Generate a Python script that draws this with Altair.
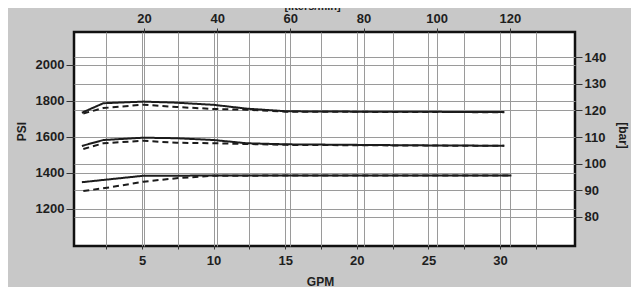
import altair as alt
import pandas as pd

# ---- data ----
top_solid_gpm = [0.8, 2.3, 5.1, 7.4, 10.0, 12.3, 15.1, 20.0, 25.0, 30.3]
top_solid_psi = [1734, 1787, 1796, 1790, 1778, 1757, 1742, 1740, 1739, 1738]
top_dash_gpm = [0.9, 2.3, 5.1, 7.4, 10.0, 12.3, 15.1, 20.0, 25.0, 30.3]
top_dash_psi = [1730, 1760, 1779, 1766, 1755, 1751, 1740, 1739, 1738, 1737]

mid_solid_gpm = [0.8, 2.3, 5.1, 7.4, 10.0, 12.3, 15.1, 20.0, 25.0, 30.3]
mid_solid_psi = [1549, 1582, 1595, 1592, 1582, 1564, 1558, 1555, 1552, 1550]
mid_dash_gpm = [0.9, 2.3, 5.1, 7.4, 10.0, 12.3, 15.1, 20.0, 25.0, 30.3]
mid_dash_psi = [1532, 1564, 1578, 1567, 1564, 1560, 1555, 1553, 1551, 1550]

low_solid_gpm = [0.8, 5.1, 10.0, 15.0, 20.0, 25.0, 30.8]
low_solid_psi = [1347, 1383, 1384, 1384, 1384, 1384, 1384]
low_dash_gpm = [0.9, 2.8, 5.1, 7.4, 10.0, 15.0, 20.0, 25.0, 30.8]
low_dash_psi = [1298, 1319, 1350, 1369, 1383, 1384, 1384, 1384, 1384]

gpm_grid = [2.5, 5, 7.5, 10, 12.5, 15, 17.5, 20, 22.5, 25, 27.5, 30, 32.5]
psi_ticks = [1200, 1400, 1600, 1800, 2000]
lpm_ticks = [20, 40, 60, 80, 100, 120]
bar_ticks = [80, 90, 100, 110, 120, 130, 140]

series = [
    ("top_solid", "solid", top_solid_gpm, top_solid_psi),
    ("top_dash", "dashed", top_dash_gpm, top_dash_psi),
    ("mid_solid", "solid", mid_solid_gpm, mid_solid_psi),
    ("mid_dash", "dashed", mid_dash_gpm, mid_dash_psi),
    ("low_solid", "solid", low_solid_gpm, low_solid_psi),
    ("low_dash", "dashed", low_dash_gpm, low_dash_psi),
]
rows = []
for name, style, xs, ys in series:
    for i, (x, y) in enumerate(zip(xs, ys)):
        rows.append({"curve": name, "style": style, "gpm": x, "psi": y, "order": i})
df = pd.DataFrame(rows)

sec = pd.DataFrame({"lpm": [lpm_ticks[0], lpm_ticks[-1]], "bar": [bar_ticks[0], bar_ticks[-1]]})

FONT = "Liberation Sans"

lines = alt.Chart(df).mark_line(strokeWidth=2, color="#1c1c1c").encode(
    x=alt.X("gpm:Q",
            scale=alt.Scale(domain=[0.25, 35.24], nice=False, zero=False),
            axis=alt.Axis(orient="bottom", values=gpm_grid,
                          labelExpr="datum.value % 5 == 0 ? datum.label : ''",
                          grid=True, tickSize=3, labelPadding=5,
                          title="GPM", titleX=246, titleY=35,
                          titleAlign="center", titleBaseline="middle")),
    y=alt.Y("psi:Q",
            scale=alt.Scale(domain=[991.6, 2183.8], nice=False, zero=False),
            axis=alt.Axis(orient="left", values=psi_ticks, grid=True, format="d",
                          tickSize=8, labelPadding=2,
                          title="PSI", titleX=-53, titleY=99, titleAngle=-90,
                          titleAlign="center", titleBaseline="middle")),
    strokeDash=alt.StrokeDash("style:N",
                              scale=alt.Scale(domain=["solid", "dashed"], range=[[1, 0], [6, 4]]),
                              legend=None),
    detail="curve:N",
    order="order:Q",
)

secondary = alt.Chart(sec).mark_point(opacity=0).encode(
    x=alt.X("lpm:Q",
            scale=alt.Scale(domain=[0.87, 137.8], nice=False, zero=False),
            axis=alt.Axis(orient="top", values=lpm_ticks, grid=True, format="d",
                          tickSize=4, labelPadding=3,
                          title="[liters/min]", titleX=238, titleY=-26,
                          titleFontSize=11,
                          titleAlign="center", titleBaseline="middle")),
    y=alt.Y("bar:Q",
            scale=alt.Scale(domain=[69.1, 149.4], nice=False, zero=False),
            axis=alt.Axis(orient="right", values=bar_ticks, grid=True, format="d",
                          tickSize=7, labelPadding=2,
                          title="[bar]", titleX=47, titleY=103, titleAngle=90,
                          titleAlign="center", titleBaseline="middle")),
)

chart = alt.layer(lines, secondary).resolve_scale(
    x="independent", y="independent"
).properties(
    width=501, height=214,
    autosize=alt.AutoSizeParams(type="none"),
    padding={"left": 66, "top": 24, "right": 56, "bottom": 41},
    background="#c8c8c8",
).configure_view(
    fill="white", stroke="#111111", strokeWidth=2.5
).configure_axis(
    domain=False,
    labelFont=FONT, labelFontWeight="bold", labelFontSize=13, labelColor="#1e1e1e",
    titleFont=FONT, titleFontWeight="bold", titleFontSize=12, titleColor="#1e1e1e",
    tickColor="#333333", tickWidth=1,
    gridColor="#9a9a9a", gridWidth=1, gridOpacity=1,
)

chart.save("out.html", embed_options={"renderer": "svg", "actions": False})
